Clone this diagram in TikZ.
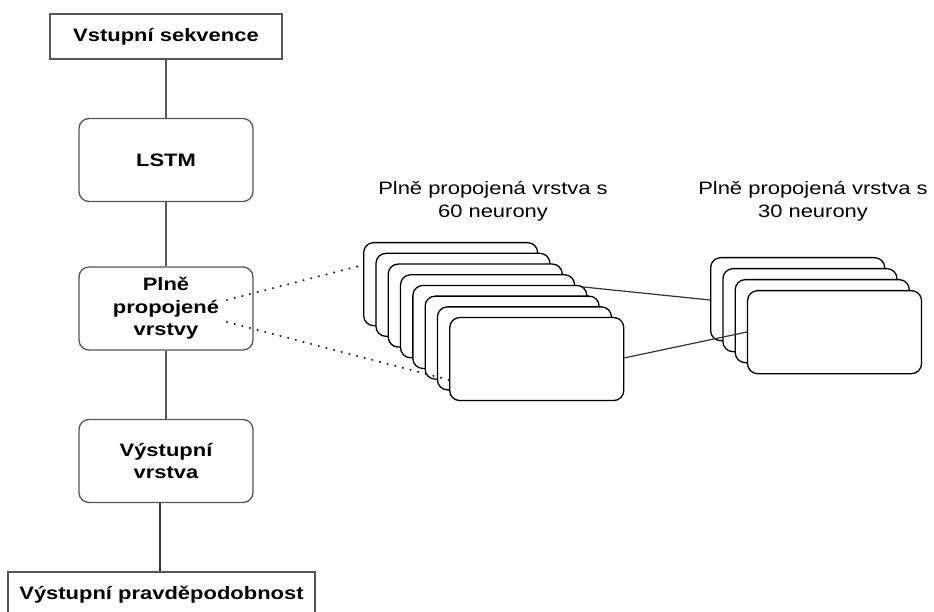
\documentclass[tikz,border=0pt]{standalone}
\usepackage{fontspec}
\setmainfont{Liberation Sans}[FakeStretch=1.22]
\usetikzlibrary{calc}
\definecolor{edgegray}{HTML}{555555}
\begin{document}
\begin{tikzpicture}[x=1pt,y=-1pt,
  every node/.style={font=\fontsize{18}{22.5}\selectfont},
  plainbox/.style={draw=edgegray,line width=1.3pt,fill=white,minimum height=45pt,inner sep=0pt,font=\fontsize{18}{22.5}\selectfont\bfseries},
  layerbox/.style={draw=edgegray,line width=1.3pt,fill=white,rounded corners=10pt,minimum width=174pt,minimum height=83pt,inner sep=0pt,align=center,font=\fontsize{18}{22.5}\selectfont\bfseries},
  neuron/.style={draw=black,line width=1.3pt,fill=white,rounded corners=10pt,minimum width=174pt,minimum height=83pt,inner sep=0pt,anchor=north west},
  link/.style={draw=edgegray,line width=1.3pt},
  dotlink/.style={draw=black!85,line width=2.3pt,line cap=round,dash pattern=on 0.1pt off 7.8pt},
  caption/.style={align=center,font=\fontsize{18}{23}\selectfont}]
\useasboundingbox (0,0) rectangle (934,612);

% main column
\node[plainbox,minimum width=232pt] (in) at (166,36.5) {Vstupní sekvence};
\node[layerbox] (lstm) at (166,160) {LSTM};
\node[layerbox] (fc) at (166,308.5) {Plně\\propojené\\vrstvy};
\node[layerbox] (outl) at (166,461) {Výstupní\\vrstva};
\node[plainbox,minimum width=307pt] (prob) at (161.5,594.5) {Výstupní pravděpodobnost};

\draw[link] (in) -- (lstm);
\draw[link] (lstm) -- (fc);
\draw[link] (fc) -- (outl);
\draw[line width=1.3pt,draw=black!80] (outl.south -| 160,0) -- (prob.north -| 160,0);

% stack of 60 neurons
\foreach \i in {1,...,8} {
  \node[neuron] (a\i) at ({363+(\i-1)*12.3},{242+(\i-1)*10.7}) {};
}
% stack of 30 neurons
\foreach \i in {1,...,4} {
  \node[neuron] (b\i) at ({710+(\i-1)*12.3},{257+(\i-1)*11}) {};
}

\node[caption] (cap60) at (493,201.5) {Plně propojená vrstva s\\60 neurony};
\node[caption] (cap30) at (813,201.5) {Plně propojená vrstva s\\30 neurony};

% connector end points
\coordinate (fcup) at ($(fc.center)+(61,-8.5)$);
\coordinate (fcdn) at ($(fc.center)+(61,13.5)$);
\coordinate (a1in) at ($(a1.north west)+(0,23)$);
\coordinate (a8in) at ($(a8.north west)+(0,63)$);
\coordinate (a5out) at ($(a5.north east)+(-6,2)$);
\coordinate (a8out) at ($(a8.north east)+(0,41)$);
\coordinate (b1in) at ($(b1.north west)+(0,43)$);
\coordinate (b4in) at ($(b4.north west)+(0,42)$);

\draw[dotlink] (fcup) -- (a1in);
\draw[dotlink] (fcdn) -- (a8in);
\draw[line width=1.2pt,draw=black!80] (a5out) -- (b1in);
\draw[line width=1.2pt,draw=black!80] (a8out) -- (b4in);
\end{tikzpicture}
\end{document}
